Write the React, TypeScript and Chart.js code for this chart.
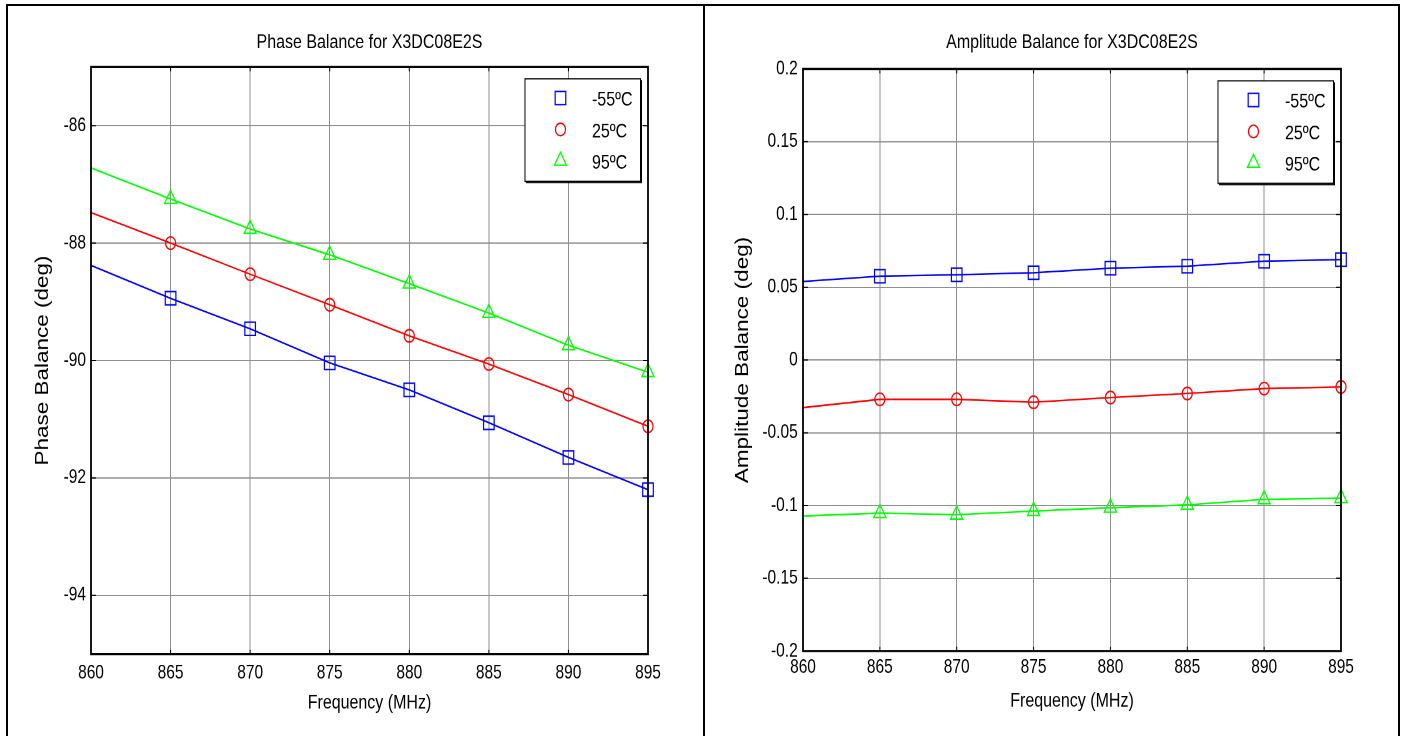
import React, { useEffect, useRef } from 'react';
import { Chart, registerables } from 'chart.js';

Chart.register(...registerables);

// ---------- data ----------
const FREQ = [860, 865, 870, 875, 880, 885, 890, 895];
const FREQ_TICKS = [860, 865, 870, 875, 880, 885, 890, 895];
const SERIES_LABELS = ['-55ºC', '25ºC', '95ºC'];

const PHASE_M55 = [-88.38, -88.94, -89.46, -90.04, -90.5, -91.06, -91.65, -92.2];
const PHASE_25 = [-87.48, -88.0, -88.53, -89.05, -89.58, -90.06, -90.58, -91.12];
const PHASE_95 = [-86.72, -87.25, -87.76, -88.2, -88.69, -89.19, -89.74, -90.2];
const PHASE_TICKS = [-94, -92, -90, -88, -86];

const AMP_M55 = [0.054, 0.0576, 0.0586, 0.06, 0.0631, 0.0645, 0.0679, 0.069];
const AMP_25 = [-0.0327, -0.027, -0.027, -0.029, -0.0258, -0.023, -0.0196, -0.0185];
const AMP_95 = [-0.1072, -0.1052, -0.1063, -0.1038, -0.1015, -0.0995, -0.0958, -0.0949];
const AMP_TICKS = [-0.2, -0.15, -0.1, -0.05, 0, 0.05, 0.1, 0.15, 0.2];

// ---------- styles ----------
const FONT = '"Liberation Sans", Arial, Helvetica, sans-serif';
const COLORS = ['#0000ff', '#ff0000', '#00ff00'];
const STYLES = ['rect', 'circle', 'triangle'];
const RADII = [7.5, 5, 7];
const GRID = '#8f8f8f';
const CANVAS_H = 589;
const K = 736 / CANVAS_H;

function drawMarker(ctx: CanvasRenderingContext2D, style: string, x: number, y: number, r: number, color: string) {
  ctx.save();
  ctx.strokeStyle = color;
  ctx.lineWidth = 1.2;
  ctx.beginPath();
  if (style === 'rect') {
    const s = Math.SQRT1_2 * r;
    ctx.rect(x - s, y - s, 2 * s, 2 * s);
  } else if (style === 'circle') {
    ctx.arc(x, y, r, 0, Math.PI * 2);
  } else {
    let rad = 0;
    ctx.moveTo(x + Math.sin(rad) * r, y - Math.cos(rad) * r);
    rad += (2 * Math.PI) / 3;
    ctx.lineTo(x + Math.sin(rad) * r, y - Math.cos(rad) * r);
    rad += (2 * Math.PI) / 3;
    ctx.lineTo(x + Math.sin(rad) * r, y - Math.cos(rad) * r);
    ctx.closePath();
  }
  ctx.stroke();
  ctx.restore();
}

const framePlugin = {
  id: 'matlabFrame',
  afterDatasetsDraw(chart: any) {
    const { ctx, chartArea: a, scales } = chart;
    ctx.save();
    ctx.strokeStyle = '#000';
    ctx.lineWidth = 1;
    ctx.beginPath();
    for (const t of scales.x.ticks) {
      const px = scales.x.getPixelForValue(t.value);
      ctx.moveTo(px, a.top);
      ctx.lineTo(px, a.top + 3.5);
      ctx.moveTo(px, a.bottom);
      ctx.lineTo(px, a.bottom - 3.5);
    }
    for (const t of scales.y.ticks) {
      const py = scales.y.getPixelForValue(t.value);
      ctx.moveTo(a.left, py);
      ctx.lineTo(a.left + 5, py);
      ctx.moveTo(a.right, py);
      ctx.lineTo(a.right - 5, py);
    }
    ctx.stroke();
    ctx.lineWidth = 1.8;
    ctx.strokeRect(a.left, a.top, a.right - a.left, a.bottom - a.top);
    ctx.restore();
  },
};

const legendPlugin = {
  id: 'matlabLegend',
  afterDraw(chart: any, _args: any, opts: any) {
    const { ctx, chartArea: a } = chart;
    const items = chart.data.datasets;
    ctx.save();
    ctx.font = `16px ${FONT}`;
    const textW = Math.max(...items.map((d: any) => ctx.measureText(d.label).width));
    const w = opts.textX + textW + opts.padRight;
    const h = opts.height;
    const x = a.right - opts.marginRight - w;
    const y = a.top + opts.marginTop;
    ctx.fillStyle = '#fff';
    ctx.fillRect(x, y, w, h);
    ctx.strokeStyle = '#000';
    ctx.lineWidth = 1;
    ctx.strokeRect(x, y, w, h);
    ctx.lineWidth = 1;
    ctx.beginPath();
    ctx.moveTo(x + w + 1, y + 1);
    ctx.lineTo(x + w + 1, y + h + 1);
    ctx.lineTo(x + 1, y + h + 1);
    ctx.stroke();
    items.forEach((d: any, i: number) => {
      const cy = y + opts.firstRow + i * opts.rowGap;
      drawMarker(ctx, STYLES[i], x + opts.markerX, cy, RADII[i], COLORS[i]);
      ctx.fillStyle = '#000';
      ctx.textBaseline = 'middle';
      ctx.textAlign = 'left';
      ctx.fillText(d.label, x + opts.textX, cy + opts.textDy);
    });
    ctx.restore();
  },
};

interface PanelCfg {
  title: string;
  yTitle: string;
  series: number[][];
  yMin: number;
  yMax: number;
  yTicks: number[];
  width: number;
  yAxisWidth: number;
  rightPad: number;
  titleTop: number;
  titleBottom: number;
  xAxisHeight: number;
  xTickPad: number;
  xTitlePadBottom: number;
  yTickPad: number;
  yTitlePadTop: number;
}

const PHASE_CFG: PanelCfg = {
  title: 'Phase Balance for X3DC08E2S',
  yTitle: 'Phase Balance (deg)',
  series: [PHASE_M55, PHASE_25, PHASE_95],
  yMin: -95,
  yMax: -85,
  yTicks: PHASE_TICKS,
  width: 696,
  yAxisWidth: 83,
  rightPad: 56,
  titleTop: 24.6,
  titleBottom: 9.8,
  xAxisHeight: 65.6,
  xTickPad: 5.9,
  xTitlePadBottom: 16.8,
  yTickPad: 5,
  yTitlePadTop: 24.2,
};

const AMP_CFG: PanelCfg = {
  title: 'Amplitude Balance for X3DC08E2S',
  yTitle: 'Amplitude Balance (deg)',
  series: [AMP_M55, AMP_25, AMP_95],
  yMin: -0.2,
  yMax: 0.2,
  yTicks: AMP_TICKS,
  width: 692,
  yAxisWidth: 97,
  rightPad: 57,
  titleTop: 24.4,
  titleBottom: 11.6,
  xAxisHeight: 68,
  xTickPad: 3.9,
  xTitlePadBottom: 18.4,
  yTickPad: 5.3,
  yTitlePadTop: 26.2,
};

function fmt(v: number) {
  return String(Number(Number(v).toFixed(3)));
}

function Panel({ cfg, left }: { cfg: PanelCfg; left: number }) {
  const ref = useRef<HTMLCanvasElement>(null);
  useEffect(() => {
    const chart = new Chart(ref.current as HTMLCanvasElement, {
      type: 'line',
      data: {
        datasets: cfg.series.map((vals, i) => ({
          label: SERIES_LABELS[i],
          data: FREQ.map((f, j) => ({ x: f, y: vals[j] })),
          borderColor: COLORS[i],
          backgroundColor: 'rgba(0,0,0,0)',
          borderWidth: 1.3,
          pointStyle: STYLES[i] as any,
          pointRadius: FREQ.map((_, j) => (j === 0 ? 0 : RADII[i])),
          pointBorderColor: COLORS[i],
          pointBackgroundColor: 'rgba(0,0,0,0)',
          pointBorderWidth: 1.2,
          tension: 0,
          clip: false as any,
        })),
      },
      options: {
        responsive: false,
        animation: false,
        devicePixelRatio: 2,
        layout: { padding: { left: 0, right: cfg.rightPad, top: 0, bottom: 0 } },
        plugins: {
          legend: { display: false },
          tooltip: { enabled: false },
          title: {
            display: true,
            text: cfg.title,
            fullSize: false,
            color: '#000',
            font: { family: FONT, size: 16, weight: 'normal', lineHeight: 1.2 },
            padding: { top: cfg.titleTop, bottom: cfg.titleBottom },
          },
          matlabLegend: {
            markerX: 35.5,
            textX: 67,
            padRight: 8,
            marginRight: 7.5,
            marginTop: 9.5,
            height: 82,
            firstRow: 15.3,
            rowGap: 25.2,
            textDy: 1.8,
          },
        } as any,
        scales: {
          x: {
            type: 'linear',
            min: 860,
            max: 895,
            afterBuildTicks: (s: any) => {
              s.ticks = FREQ_TICKS.map((v) => ({ value: v }));
            },
            afterFit: (s: any) => {
              s.height = cfg.xAxisHeight;
            },
            grid: { color: GRID, lineWidth: 1, drawTicks: false },
            border: { display: false },
            ticks: {
              color: '#000',
              font: { family: FONT, size: 15.5, lineHeight: 1.2 },
              padding: cfg.xTickPad,
              maxRotation: 0,
              autoSkip: false,
              callback: (v: any) => fmt(v),
            },
            title: {
              display: true,
              text: 'Frequency (MHz)',
              color: '#000',
              font: { family: FONT, size: 16, lineHeight: 1.2 },
              padding: { top: 0, bottom: cfg.xTitlePadBottom },
            },
          },
          y: {
            type: 'linear',
            min: cfg.yMin,
            max: cfg.yMax,
            afterBuildTicks: (s: any) => {
              s.ticks = cfg.yTicks.map((v) => ({ value: v }));
            },
            afterFit: (s: any) => {
              s.width = cfg.yAxisWidth;
            },
            grid: { color: GRID, lineWidth: 1, drawTicks: false },
            border: { display: false },
            ticks: {
              color: '#000',
              font: { family: FONT, size: 15.5, lineHeight: 1.2 },
              padding: cfg.yTickPad,
              autoSkip: false,
              callback: (v: any) => fmt(v),
            },
            title: {
              display: true,
              text: cfg.yTitle,
              color: '#000',
              font: { family: FONT, size: 18, lineHeight: 1.2 },
              padding: { top: cfg.yTitlePadTop, bottom: 0 },
            },
          },
        },
      } as any,
      plugins: [framePlugin, legendPlugin],
    });
    return () => chart.destroy();
  }, []);
  return (
    <div
      style={{
        position: 'absolute',
        left,
        top: 0,
        width: cfg.width,
        height: CANVAS_H,
        transform: `scaleY(${K})`,
        transformOrigin: '0 0',
      }}
    >
      <canvas ref={ref} width={cfg.width} height={CANVAS_H} style={{ display: 'block' }} />
    </div>
  );
}

export default function App() {
  return (
    <div
      style={{
        position: 'fixed',
        left: 0,
        top: 0,
        width: 1404,
        height: 736,
        overflow: 'hidden',
        background: '#fff',
      }}
    >
      <Panel cfg={PHASE_CFG} left={8} />
      <Panel cfg={AMP_CFG} left={706} />
      <div
        style={{
          position: 'absolute',
          left: 6,
          top: 4,
          width: 1390,
          height: 800,
          borderTop: '2px solid #000',
          borderLeft: '2px solid #000',
          borderRight: '2px solid #000',
        }}
      />
      <div style={{ position: 'absolute', left: 703, top: 4, width: 2, height: 800, background: '#000' }} />
    </div>
  );
}
